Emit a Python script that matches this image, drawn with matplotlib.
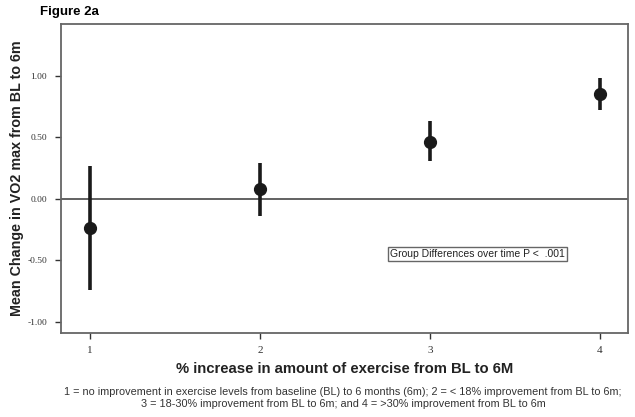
import numpy as np
import matplotlib.pyplot as plt

plt.rcParams['font.family'] = ['Liberation Sans', 'DejaVu Sans']

groups = np.array([1, 2, 3, 4])
means = np.array([-0.236, 0.08, 0.46, 0.85])
ci_low = np.array([-0.74, -0.14, 0.31, 0.72])
ci_high = np.array([0.268, 0.29, 0.63, 0.98])
tick_labels = ['1', '2', '3', '4']
y_ticks = [-1.0, -0.5, 0.0, 0.5, 1.0]

fig = plt.figure(figsize=(6.35, 4.17), dpi=100)
ax = fig.add_axes([0.096, 0.2014, 0.893, 0.741])

ax.axhline(0, color='#555555', linewidth=1.3, zorder=1)
ax.vlines(groups, ci_low, ci_high, color='#1a1a1a', linewidth=2.6, zorder=2)
ax.plot(groups, means, 'o', color='#1a1a1a', markersize=8.5, zorder=3)

ax.set_xlim(0.83, 4.165)
ax.set_ylim(-1.09, 1.42)
ax.set_xticks(groups)
ax.set_xticklabels(tick_labels, fontsize=8, family='Liberation Serif')
ax.set_yticks(y_ticks)
ax.set_yticklabels(['%.2f' % v for v in y_ticks], fontsize=6.8, family='Liberation Serif')
for s in ax.spines.values():
    s.set_color('#666666')
    s.set_linewidth(1.3)
ax.tick_params(axis='x', colors='#333333', length=4, width=1, pad=5)
ax.tick_params(axis='y', colors='#333333', length=4, width=1, pad=6)

ax.set_xlabel('% increase in amount of exercise from BL to 6M', fontsize=10.7,
              fontweight='bold', color='#222222')
ax.xaxis.set_label_coords(0.5, -0.095)
ax.set_ylabel('Mean Change in VO2 max from BL to 6m', fontsize=10.3,
              fontweight='bold', color='#222222')
ax.yaxis.set_label_coords(-0.066, 0.5)

ax.text(3.28, -0.45, 'Group Differences over time P <  .001', fontsize=7.5,
        ha='center', va='center', color='#222222',
        bbox=dict(boxstyle='square,pad=0.2', fc='white', ec='#666666', lw=1))

fig.text(0.063, 0.972, 'Figure 2a', fontsize=9.5, fontweight='bold', va='center')
fig.text(0.54, 0.060, '1 = no improvement in exercise levels from baseline (BL) to 6 months (6m); 2 = < 18% improvement from BL to 6m;',
         fontsize=7.8, ha='center', va='center', color='#333333')
fig.text(0.54, 0.030, '3 = 18-30% improvement from BL to 6m; and 4 = >30% improvement from BL to 6m',
         fontsize=7.8, ha='center', va='center', color='#333333')

fig.savefig('out.png', dpi=100)
